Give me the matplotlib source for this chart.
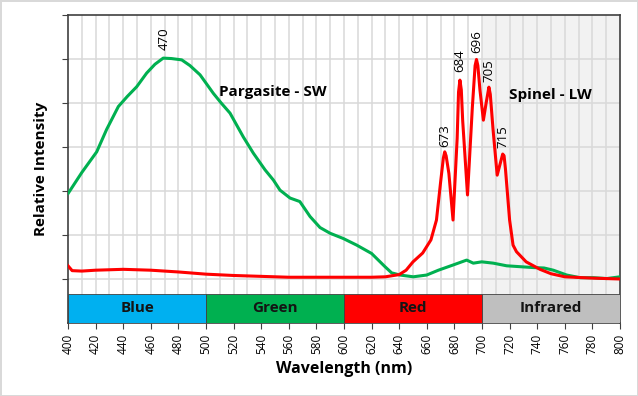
import matplotlib.pyplot as plt
from matplotlib.patches import Rectangle

plt.rcParams['font.family'] = ['Open Sans', 'DejaVu Sans']

# Pargasite (short wave) - green
wl_sw = [400.2, 410, 420.8, 428, 436.5, 443, 449.8, 457, 463, 469, 475, 482.4, 488.4, 495.7,
         505.3, 511, 517.4, 527, 534.3, 542.8, 548.8, 553.6, 560.9, 568, 575.4, 582.6, 589.9,
         599.5, 609.2, 620, 629.7, 634.5, 640.6, 650.2, 659.9, 668.4, 679.2, 688.9, 693.7,
         699.8, 708.2, 717.9, 727.5, 737.2, 745, 751.7, 761.4, 771, 780.7, 790.4, 800]
int_sw = [1.95, 2.42, 2.89, 3.40, 3.92, 4.15, 4.37, 4.68, 4.88, 5.02, 5.01, 4.98, 4.85, 4.64,
          4.22, 4.00, 3.77, 3.23, 2.86, 2.48, 2.25, 2.02, 1.84, 1.76, 1.42, 1.17, 1.04,
          0.92, 0.77, 0.58, 0.28, 0.14, 0.09, 0.05, 0.09, 0.20, 0.32, 0.43, 0.36,
          0.39, 0.36, 0.30, 0.28, 0.26, 0.25, 0.20, 0.09, 0.03, 0.03, 0.01, 0.05]

# Spinel (long wave) - red
wl_lw = [400, 403, 410, 420, 440, 460, 480, 500, 520, 540, 560, 600, 620, 630, 640, 645,
         650, 657, 663, 667, 670, 672, 673, 674, 676, 679, 682, 683, 684, 685, 686, 689.5,
         693, 695, 696, 697, 698.5, 701, 703, 705, 706, 708, 711, 713, 715, 716, 717, 720,
         722.5, 725, 732, 742, 750, 760, 780, 800]
int_lw = [0.30, 0.19, 0.18, 0.20, 0.22, 0.20, 0.16, 0.11, 0.08, 0.06, 0.04, 0.04, 0.04,
          0.05, 0.10, 0.20, 0.39, 0.59, 0.89, 1.34, 2.20, 2.75, 2.89, 2.80, 2.40, 1.34,
          3.20, 4.25, 4.52, 4.30, 3.60, 1.91, 3.90, 4.85, 4.99, 4.85, 4.30, 3.61, 4.00,
          4.36, 4.20, 3.40, 2.36, 2.60, 2.84, 2.80, 2.50, 1.34, 0.77, 0.62, 0.39, 0.22,
          0.12, 0.05, 0.02, 0.00]

peak_sw = [470]
peak_sw_y = [5.2]
peaks_lw = [673, 684, 696, 705, 715]
peaks_lw_y = [3.0, 4.7, 5.14, 4.48, 2.98]

bands = ['Blue', 'Green', 'Red', 'Infrared']
band_start = [400, 500, 600, 700]
band_end = [500, 600, 700, 800]
band_colors = ['#00b0f0', '#00b050', '#ff0000', '#bfbfbf']

fig = plt.figure(figsize=(6.38, 3.96), dpi=100)
fig.patch.set_edgecolor('#d9d9d9')
fig.patch.set_linewidth(2)
ax = fig.add_axes([68 / 638, 73 / 396, 552 / 638, 308 / 396])

ax.set_xlim(400, 800)
ax.set_ylim(-1, 6)

# infrared background
ax.axvspan(700, 800, ymin=0.65 / 7, ymax=1, color='#f2f2f2', zorder=0)

# grid
for x in range(410, 800, 10):
    ax.axvline(x, color='#d9d9d9', lw=1.1, zorder=1)
for y in range(0, 6):
    ax.axhline(y, color='#d9d9d9', lw=1.1, zorder=1)

ax.plot(wl_sw, int_sw, color='#00b050', lw=2.2, zorder=3)
ax.plot(wl_lw, int_lw, color='#ff0000', lw=2.2, zorder=4)

# colour bands
for name, a, b, c in zip(bands, band_start, band_end, band_colors):
    ax.add_patch(Rectangle((a, -1), b - a, 0.65, facecolor=c, edgecolor='#404040', lw=0.6, zorder=5))
    ax.text((a + b) / 2, -0.67, name, ha='center', va='center', fontsize=11,
            fontweight='bold', color='#141414', zorder=6)

for p, y in zip(peak_sw, peak_sw_y):
    ax.text(p, y, str(p), rotation=90, ha='center', va='bottom', fontsize=9.5, zorder=6)
for p, y in zip(peaks_lw, peaks_lw_y):
    ax.text(p, y, str(p), rotation=90, ha='center', va='bottom', fontsize=9.5, zorder=6)

ax.text(509.4, 4.25, 'Pargasite - SW', ha='left', va='center', fontsize=11, fontweight='bold')
ax.text(719.6, 4.18, 'Spinel - LW', ha='left', va='center', fontsize=11, fontweight='bold')

ax.set_xticks(range(400, 801, 20))
ax.set_xticklabels([str(v) for v in range(400, 801, 20)], rotation=90, fontsize=8.5)
ax.set_yticks(range(0, 7))
ax.set_yticklabels([])
ax.tick_params(direction='out', length=4, color='#404040')
for s in ax.spines.values():
    s.set_color('#404040')
    s.set_linewidth(1.2)

ax.set_xlabel('Wavelength (nm)', fontsize=11.5, fontweight='bold', labelpad=5)
ax.set_ylabel('Relative Intensity', fontsize=11, fontweight='bold', labelpad=7)

fig.savefig('out.png', dpi=100)
